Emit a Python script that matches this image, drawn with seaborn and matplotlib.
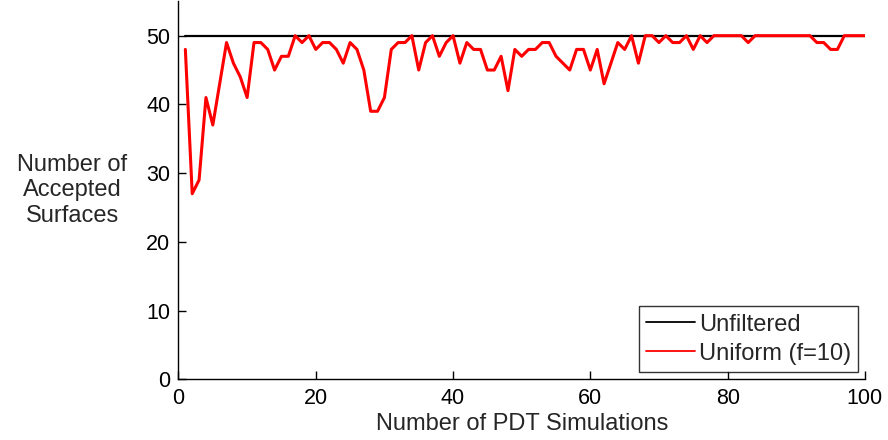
import matplotlib
matplotlib.use("Agg")
import matplotlib.pyplot as plt
from matplotlib.lines import Line2D
import numpy as np
import pandas as pd
import seaborn as sns

# Accepted surfaces per simulation run
simulations = list(range(1, 101))
unfiltered = [50] * 100
uniform_f10 = [
    48, 27, 29, 41, 37, 43, 49, 46, 44, 41,
    49, 49, 48, 45, 47, 47, 50, 49, 50, 48,
    49, 49, 48, 46, 49, 48, 45, 39, 39, 41,
    48, 49, 49, 50, 45, 49, 50, 47, 49, 50,
    46, 49, 48, 48, 45, 45, 47, 42, 48, 47,
    48, 48, 49, 49, 47, 46, 45, 48, 48, 45,
    48, 43, 46, 49, 48, 50, 46, 50, 50, 49,
    50, 49, 49, 50, 48, 50, 49, 50, 50, 50,
    50, 50, 49, 50, 50, 50, 50, 50, 50, 50,
    50, 50, 49, 49, 48, 48, 50, 50, 50, 50,
]
series_names = ["Unfiltered", "Uniform (f=10)"]
series_colors = ["black", "red"]
x_ticks = [0, 20, 40, 60, 80, 100]
y_ticks = [0, 10, 20, 30, 40, 50]

df = pd.DataFrame({
    "sim": simulations * 2,
    "accepted": unfiltered + uniform_f10,
    "series": [series_names[0]] * 100 + [series_names[1]] * 100,
})

sns.set_style("white")
plt.rcParams["font.family"] = ["Liberation Sans", "DejaVu Sans"]

fig = plt.figure(figsize=(8.88, 4.40), dpi=100)
ax = fig.add_axes([0.201, 0.138, 0.773, 0.859])

sns.lineplot(data=df[df.series == series_names[0]], x="sim", y="accepted",
             color=series_colors[0], linewidth=1.6, ax=ax, legend=False)
sns.lineplot(data=df[df.series == series_names[1]], x="sim", y="accepted",
             color=series_colors[1], linewidth=2.2, ax=ax, legend=False)

ax.set_xlim(0, 100)
ax.set_ylim(0, 55)
ax.set_xticks(x_ticks)
ax.set_yticks(y_ticks)
ax.tick_params(direction="in", length=6, width=1, labelsize=15.5,
               colors="black", bottom=True, left=True, pad=6)
for side in ["top", "right"]:
    ax.spines[side].set_visible(False)
for side in ["left", "bottom"]:
    ax.spines[side].set_color("black")
    ax.spines[side].set_linewidth(1.0)

ax.set_xlabel("Number of PDT Simulations", fontsize=17, labelpad=3)
ax.set_ylabel("Number of\nAccepted\nSurfaces", fontsize=17, rotation=0,
              ha="center", va="center", linespacing=1.2)
ax.yaxis.set_label_coords(-0.155, 0.50)

handles = [Line2D([0], [0], color=c, lw=1.3) for c in series_colors]
leg = ax.legend(handles, series_names, loc="lower right", fontsize=17,
                frameon=True, fancybox=False, handlelength=2.1,
                handletextpad=0.15, borderpad=0.3, labelspacing=0.3,
                bbox_to_anchor=(0.99, 0.02), borderaxespad=0)
leg.get_frame().set_edgecolor("black")
leg.get_frame().set_linewidth(1.0)

fig.savefig("out.png", dpi=100)
